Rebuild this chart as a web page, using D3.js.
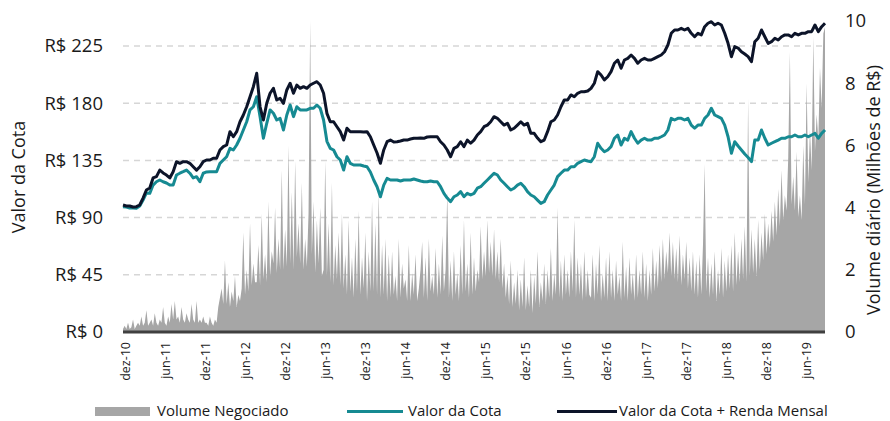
<!DOCTYPE html>
<html>
<head>
<meta charset="utf-8">
<script src="https://cdn.jsdelivr.net/npm/d3@7"></script>
<style>
  body { margin: 0; background: #fff; }
  svg { display: block; font-family: "Open Sans", sans-serif; }
</style>
</head>
<body>
<div id="chart"></div>
<script>
const width = 890;
const height = 421;
const margin = { top: 21, bottom: 89, left: 123, right: 65 };

// eixo x: rótulos como no gráfico original
const tickLabels = ['dez-10', 'jun-11', 'dez-11', 'jun-12', 'dez-12', 'jun-13', 'dez-13', 'jun-14', 'dez-14',
  'jun-15', 'dez-15', 'jun-16', 'dez-16', 'jun-17', 'dez-17', 'jun-18', 'dez-18', 'jun-19'];
const cotaTicks = [0, 45, 90, 135, 180, 225];
const volumeTicks = [0, 2, 4, 6, 8, 10];

// período da série (primeiro e último dia)
const dataInicio = new Date(2010, 10, 20);
const dataFim = new Date(2019, 7, 28);

// Valor da Cota + Renda Mensal (R$), quinzenal
const cotaRenda = [
  99.9, 99.1, 99.1, 98.3, 98.6, 99.9, 105.4, 111.7, 113.3, 121.2,
  122.2, 127.4, 125.1, 123.5, 121.2, 126.1, 134.0, 132.7, 134.0, 134.0,
  132.7, 130.0, 127.4, 130.0, 134.0, 135.3, 135.3, 136.7, 136.7, 143.2,
  145.8, 147.1, 157.6, 153.6, 157.6, 165.4, 170.7, 177.2, 185.1, 193.0,
  203.5, 177.2, 166.8, 179.9, 187.8, 191.7, 182.5, 183.9, 179.9, 190.4,
  195.7, 187.8, 194.3, 191.7, 193.0, 191.7, 194.3, 195.7, 196.9, 194.3,
  187.8, 172.0, 165.4, 165.4, 161.5, 157.6, 151.0, 160.3, 157.6, 157.6,
  157.6, 157.6, 157.3, 157.6, 153.6, 147.1, 140.8, 132.7, 143.2, 149.7,
  151.0, 149.5, 149.7, 150.3, 151.0, 151.0, 151.8, 152.4, 152.4, 152.6,
  152.4, 153.4, 153.6, 153.6, 153.6, 149.7, 147.1, 143.2, 137.9, 144.5,
  145.8, 149.7, 145.8, 151.0, 148.5, 151.0, 155.0, 157.6, 161.5, 162.8,
  165.4, 169.4, 168.1, 165.4, 162.8, 164.2, 158.9, 160.3, 162.8, 165.4,
  162.8, 164.2, 156.3, 156.3, 152.6, 149.7, 151.0, 157.6, 165.4, 166.8,
  170.7, 177.2, 182.5, 182.5, 186.5, 185.1, 187.8, 189.0, 189.0, 189.6,
  191.7, 195.7, 204.8, 202.2, 198.3, 200.8, 204.8, 211.4, 214.0, 207.5,
  214.0, 215.3, 217.9, 215.3, 211.4, 214.0, 215.3, 214.0, 214.0, 215.3,
  216.6, 217.9, 220.5, 225.8, 235.0, 237.6, 237.6, 238.9, 237.6, 238.9,
  235.0, 232.3, 235.0, 233.7, 240.2, 242.9, 244.1, 241.5, 242.9, 241.5,
  235.0, 227.1, 216.6, 224.5, 223.4, 220.5, 218.7, 216.6, 212.6, 228.4,
  231.1, 237.6, 232.3, 227.1, 228.4, 231.1, 229.7, 232.3, 233.7, 233.7,
  232.3, 235.0, 233.7, 235.0, 235.0, 236.3, 236.3, 241.5, 236.3, 240.2,
  242.9
];

// Valor da Cota (R$), quinzenal
const cota = [
  98.6, 98.3, 97.6, 97.6, 97.3, 99.1, 103.8, 109.4, 109.1, 115.6,
  118.2, 119.6, 118.2, 117.2, 115.6, 115.6, 123.5, 124.9, 126.1, 127.4,
  124.9, 121.2, 122.2, 118.2, 124.9, 125.9, 126.1, 126.1, 126.1, 132.7,
  135.3, 137.9, 144.5, 143.2, 147.1, 152.4, 158.9, 165.4, 174.7, 177.2,
  185.1, 169.4, 152.4, 164.2, 174.7, 172.1, 166.8, 168.1, 158.9, 170.7,
  178.6, 169.4, 177.2, 174.7, 174.7, 174.7, 176.0, 176.0, 178.6, 176.0,
  166.8, 150.0, 144.5, 143.2, 137.9, 135.3, 127.4, 137.9, 132.7, 131.4,
  131.4, 131.4, 130.6, 130.0, 125.9, 119.6, 114.3, 106.4, 115.6, 120.9,
  119.6, 119.6, 119.6, 118.8, 119.6, 119.6, 119.6, 120.4, 119.6, 118.8,
  118.2, 118.2, 118.8, 118.2, 118.2, 114.3, 109.1, 105.4, 102.5, 106.4,
  107.8, 110.4, 106.4, 109.1, 107.8, 109.1, 113.1, 114.3, 117.0, 119.6,
  122.2, 124.9, 123.5, 119.6, 117.0, 114.3, 111.7, 113.1, 115.6, 117.0,
  114.3, 110.4, 107.8, 106.4, 103.8, 101.2, 102.5, 107.8, 111.7, 115.6,
  122.2, 124.9, 127.4, 127.4, 130.0, 130.0, 132.7, 134.0, 135.3, 134.5,
  134.0, 137.9, 148.5, 144.5, 141.8, 143.2, 145.8, 152.4, 155.0, 147.1,
  152.4, 151.0, 157.6, 152.4, 148.5, 151.0, 152.4, 151.0, 151.0, 152.4,
  152.4, 153.6, 155.0, 158.9, 168.1, 166.8, 168.1, 168.1, 166.8, 168.1,
  162.8, 160.3, 162.8, 162.8, 168.1, 170.7, 176.0, 170.7, 169.4, 168.1,
  162.8, 153.6, 140.6, 149.7, 146.3, 143.2, 140.0, 137.3, 134.0, 151.0,
  151.0, 158.9, 152.4, 147.1, 148.5, 149.7, 151.0, 152.4, 152.4, 153.6,
  153.6, 155.0, 153.6, 153.6, 155.0, 153.6, 155.0, 156.3, 152.4, 156.3,
  158.9
];

// Volume negociado (milhões de R$), semanal
const volume = [
  0.1, 0.2, 0.1, 0.3, 0.1, 0.15, 0.4, 0.1, 0.2, 0.3,
  0.2, 0.5, 0.2, 0.3, 0.7, 0.2, 0.3, 0.4, 0.2, 0.6,
  0.3, 0.2, 0.4, 0.3, 0.8, 0.3, 0.2, 0.5, 0.3, 0.9,
  0.4, 1.0, 0.4, 0.5, 0.3, 0.8, 0.4, 0.3, 0.6, 0.4,
  0.3, 0.9, 0.4, 0.3, 1.0, 0.3, 0.4, 0.3, 0.5, 0.3,
  0.3, 0.2, 0.5, 0.3, 0.2, 0.4, 0.3, 0.8, 1.1, 1.4,
  0.9, 2.3, 0.9, 1.6, 0.8, 1.3, 1.0, 1.8, 0.8, 1.2,
  1.0, 1.4, 3.2, 1.2, 2.0, 1.3, 3.5, 1.5, 2.2, 1.6,
  1.6, 2.8, 1.5, 3.8, 1.7, 2.5, 1.6, 4.2, 1.8, 2.6,
  2.2, 4.0, 1.9, 3.0, 2.0, 5.2, 2.0, 3.3, 2.1, 6.0,
  2.2, 4.5, 2.0, 5.5, 2.4, 3.5, 2.2, 4.8, 2.0, 3.0,
  2.1, 3.8, 10.0, 2.5, 4.2, 1.9, 3.6, 2.2, 4.0, 1.8,
  2.0, 5.5, 1.8, 3.5, 1.6, 4.8, 1.5, 2.8, 1.7, 3.2,
  1.5, 3.8, 1.4, 2.5, 1.2, 3.6, 1.3, 2.4, 1.1, 3.0,
  1.3, 3.9, 1.2, 2.4, 1.4, 3.2, 1.0, 2.6, 1.3, 4.2,
  1.3, 3.5, 1.2, 4.5, 1.1, 2.8, 1.2, 3.0, 1.0, 2.5,
  1.1, 2.6, 1.2, 1.8, 1.0, 3.0, 1.1, 2.2, 1.4, 1.7,
  1.0, 2.8, 1.0, 1.9, 1.2, 2.5, 1.0, 1.4, 2.0, 2.9,
  1.1, 2.4, 1.0, 3.0, 1.3, 1.8, 1.2, 2.7, 1.1, 2.2,
  1.2, 3.1, 1.3, 2.0, 4.5, 1.1, 2.3, 1.0, 2.6, 1.2,
  1.9, 1.0, 2.8, 1.2, 3.6, 1.3, 2.2, 1.1, 3.2, 1.2,
  2.4, 1.3, 2.0, 1.6, 3.4, 1.7, 2.6, 1.8, 3.6, 1.9,
  2.9, 1.8, 3.3, 1.7, 2.6, 1.6, 3.0, 1.4, 2.2, 1.1,
  1.8, 0.9, 2.3, 0.8, 1.6, 0.9, 2.0, 0.7, 1.7, 0.8,
  2.4, 0.7, 1.5, 0.8, 2.0, 0.6, 1.8, 0.9, 2.6, 0.8,
  1.6, 1.0, 2.2, 0.9, 2.0, 1.1, 2.7, 1.0, 1.9, 1.2,
  4.0, 1.1, 2.3, 1.0, 2.5, 1.2, 2.0, 1.1, 2.6, 1.3,
  3.6, 1.1, 2.4, 1.2, 2.2, 1.0, 2.6, 1.1, 2.0, 1.2,
  1.1, 2.5, 1.0, 2.2, 1.2, 2.8, 1.0, 1.9, 1.1, 2.4,
  1.0, 2.6, 1.1, 2.0, 1.0, 2.3, 1.2, 1.8, 1.0, 2.9,
  1.1, 2.1, 1.0, 2.4, 1.2, 1.9, 1.0, 2.5, 1.1, 2.0,
  1.2, 2.6, 1.1, 2.2, 1.0, 2.0, 1.2, 2.7, 1.3, 2.3,
  1.4, 2.8, 1.6, 3.0, 1.7, 2.6, 1.9, 3.2, 1.8, 2.9,
  1.7, 2.7, 1.6, 3.1, 1.5, 2.5, 1.7, 2.9, 1.4, 2.4,
  1.3, 2.6, 1.2, 2.3, 1.1, 2.5, 1.2, 2.8, 5.4, 1.3,
  2.4, 1.1, 2.2, 1.2, 2.6, 1.0, 2.0, 1.2, 2.7, 1.1,
  2.3, 1.3, 2.5, 1.4, 2.8, 1.3, 3.2, 1.5, 2.6, 1.6,
  3.0, 1.7, 3.4, 1.6, 7.5, 1.8, 3.3, 1.9, 3.0, 1.8,
  3.6, 2.0, 3.2, 2.3, 3.8, 2.5, 3.5, 2.7, 3.9, 2.9,
  4.2, 3.1, 4.6, 3.4, 5.2, 3.6, 4.4, 3.9, 5.6, 9.0,
  4.1, 5.0, 3.9, 5.8, 3.7, 4.4, 3.6, 6.0, 4.1, 8.0,
  4.8, 6.5, 5.2, 9.5, 5.8, 7.0, 6.2, 8.5, 7.2, 9.6, 9.8
];

const meses = { jun: 5, dez: 11 };
const parseLabel = s => new Date(2000 + +s.slice(4), meses[s.slice(0, 3)], 1);

// pontos distribuídos uniformemente no período
const datas = n => d3.range(n).map(i => new Date(+dataInicio + i * (dataFim - dataInicio) / (n - 1)));
const datasLinha = datas(cota.length);
const datasVolume = datas(volume.length);

const svg = d3.select('#chart')
  .append('svg')
  .attr('width', width)
  .attr('height', height);

const x = d3.scaleTime()
  .domain([dataInicio, dataFim])
  .range([margin.left, width - margin.right]);

const y = d3.scaleLinear()
  .domain([0, 225])
  .range([height - margin.bottom, 46]);

const y2 = d3.scaleLinear()
  .domain([0, 10])
  .range([height - margin.bottom, margin.top]);

// grade tracejada
svg.append('g')
  .selectAll('line')
  .data(cotaTicks.slice(1))
  .join('line')
    .attr('x1', margin.left)
    .attr('x2', width - margin.right)
    .attr('y1', d => y(d))
    .attr('y2', d => y(d))
    .attr('stroke', '#d6d6d6')
    .attr('stroke-width', 1.5)
    .attr('stroke-dasharray', '6,5');

// volume
svg.append('path')
  .datum(volume)
  .attr('fill', '#a6a6a6')
  .attr('d', d3.area()
    .x((d, i) => x(datasVolume[i]))
    .y0(y2(0))
    .y1(d => y2(d)));

// linhas
const linha = d3.line()
  .x((d, i) => x(datasLinha[i]))
  .y(d => y(d));

svg.append('path')
  .datum(cota)
  .attr('fill', 'none')
  .attr('stroke', '#168a92')
  .attr('stroke-width', 3)
  .attr('stroke-linejoin', 'round')
  .attr('d', linha);

svg.append('path')
  .datum(cotaRenda)
  .attr('fill', 'none')
  .attr('stroke', '#0c1429')
  .attr('stroke-width', 3)
  .attr('stroke-linejoin', 'round')
  .attr('d', linha);

// linha base
svg.append('line')
  .attr('x1', margin.left)
  .attr('x2', width - margin.right)
  .attr('y1', y(0))
  .attr('y2', y(0))
  .attr('stroke', '#404040')
  .attr('stroke-width', 3);

// eixos
const eixoY = svg.append('g')
  .attr('transform', `translate(${margin.left},0)`)
  .call(d3.axisLeft(y).tickValues(cotaTicks).tickFormat(d => 'R$ ' + d).tickSize(0).tickPadding(20));

const eixoY2 = svg.append('g')
  .attr('transform', `translate(${width - margin.right},0)`)
  .call(d3.axisRight(y2).tickValues(volumeTicks).tickSize(0).tickPadding(20));

const eixoX = svg.append('g')
  .attr('transform', `translate(0,${height - margin.bottom})`)
  .call(d3.axisBottom(x).tickValues(tickLabels.map(parseLabel)).tickFormat((d, i) => tickLabels[i]).tickSize(0));

[eixoY, eixoY2, eixoX].forEach(g => {
  g.select('.domain').remove();
  g.selectAll('text').attr('fill', '#1a1a1a').attr('font-family', '"Open Sans", sans-serif');
});
eixoY.selectAll('text').attr('font-size', '18.5px');
eixoY2.selectAll('text').attr('font-size', '18.5px');
eixoX.selectAll('text')
  .attr('font-size', '12.5px')
  .attr('text-anchor', 'end')
  .attr('transform', 'translate(0,10) rotate(-90)')
  .attr('x', 0)
  .attr('y', 0)
  .attr('dy', '0.35em');

// títulos dos eixos
svg.append('text')
  .attr('transform', 'translate(25,177) rotate(-90)')
  .attr('text-anchor', 'middle')
  .attr('font-size', '18px')
  .attr('fill', '#1a1a1a')
  .text('Valor da Cota');

svg.append('text')
  .attr('transform', 'translate(880,190) rotate(-90)')
  .attr('text-anchor', 'middle')
  .attr('font-size', '18px')
  .attr('fill', '#1a1a1a')
  .text('Volume diário (Milhões de R$)');

// legenda
const legenda = svg.append('g').attr('font-size', '15px').attr('fill', '#1a1a1a');
legenda.append('rect').attr('x', 95).attr('y', 407).attr('width', 55).attr('height', 9).attr('fill', '#a6a6a6');
legenda.append('text').attr('x', 157).attr('y', 416).text('Volume Negociado');
legenda.append('line').attr('x1', 347).attr('x2', 403).attr('y1', 411.5).attr('y2', 411.5).attr('stroke', '#168a92').attr('stroke-width', 3);
legenda.append('text').attr('x', 408).attr('y', 416).text('Valor da Cota');
legenda.append('line').attr('x1', 557).attr('x2', 617).attr('y1', 411.5).attr('y2', 411.5).attr('stroke', '#0c1429').attr('stroke-width', 3);
legenda.append('text').attr('x', 619).attr('y', 416).text('Valor da Cota + Renda Mensal');
</script>
</body>
</html>
